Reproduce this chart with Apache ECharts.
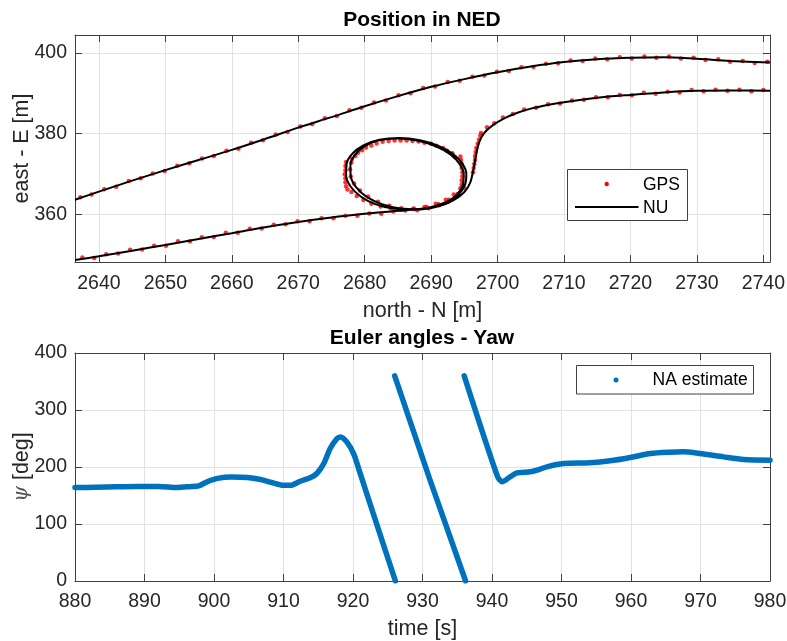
<!DOCTYPE html>
<html>
<head>
<meta charset="utf-8">
<script src="https://cdn.jsdelivr.net/npm/echarts@6/dist/echarts.min.js"></script>
<style>
  html, body { margin: 0; padding: 0; background: #fff; }
  #chart { width: 787px; height: 641px; }
</style>
</head>
<body>
<div id="chart"></div>
<script>
// ---- Position in NED: GPS fixes (north, east) in metres ----
const gpsUpper = [[2637.2,364.3],[2638.9,365.0],[2640.8,366.3],[2642.6,366.9],[2644.5,368.3],[2646.3,369.0],[2648.1,370.2],[2649.9,370.8],[2651.8,372.1],[2653.6,372.7],[2655.5,373.9],[2657.3,374.5],[2659.2,375.8],[2661.0,376.3],[2662.9,377.8],[2664.7,378.4],[2666.6,379.8],[2668.4,380.4],[2670.3,381.8],[2672.1,382.4],[2674.0,383.8],[2675.8,384.4],[2677.7,385.8],[2679.5,386.4],[2681.4,387.7],[2683.2,388.2],[2685.1,389.5],[2686.9,390.0],[2688.8,391.3],[2690.6,391.7],[2692.5,392.8],[2694.3,393.1],[2696.2,394.1],[2698.0,394.4],[2699.9,395.3],[2701.7,395.5],[2703.6,396.4],[2705.4,396.5],[2707.3,397.3],[2709.1,397.4],[2711.0,398.1],[2712.8,398.0],[2714.7,398.6],[2716.5,398.4],[2718.4,398.9],[2720.2,398.6],[2722.1,399.1],[2723.9,398.8],[2725.8,399.1],[2727.6,398.6],[2729.5,398.8],[2731.3,398.2],[2733.2,398.4],[2735.0,397.8],[2736.9,398.0],[2738.7,397.5],[2740.6,397.8]];
const gpsLowerLeft = [[2637.5,349.4],[2639.3,349.3],[2641.1,350.2],[2642.9,350.4],[2644.7,351.3],[2646.5,351.4],[2648.3,352.3],[2650.1,352.3],[2651.9,353.4],[2653.7,353.4],[2655.5,354.4],[2657.3,354.5],[2659.1,355.5],[2660.9,355.5],[2662.7,356.5],[2664.5,356.6],[2666.3,357.5],[2668.1,357.6],[2669.9,358.4],[2671.7,358.4],[2673.5,359.1],[2675.3,359.1],[2677.1,359.7],[2678.9,359.7],[2680.7,360.3],[2682.5,360.2],[2684.3,360.8]];
const gpsLoop = [[2686.1,361.0],[2687.9,361.1],[2689.6,361.6],[2691.2,362.3],[2692.6,363.2],[2693.8,364.4],[2693.6,374.2],[2692.4,375.8],[2690.8,377.0],[2689.0,377.8],[2687.2,378.2],[2685.4,378.3],[2683.6,378.2],[2681.8,377.6],[2680.2,376.6],[2679.0,375.3],[2678.1,373.8],[2677.2,373.0],[2677.1,372.0],[2677.1,371.0],[2677.0,370.0],[2677.1,369.0],[2677.1,368.0],[2677.2,367.0],[2677.4,366.2],[2678.0,365.6],[2678.8,364.6],[2679.8,363.6],[2681.0,362.7],[2682.4,362.0],[2683.9,361.5],[2685.5,361.2],[2687.3,361.4],[2689.0,361.9],[2690.7,362.7],[2692.2,363.7],[2693.4,365.0],[2694.4,366.5],[2694.6,367.5],[2694.6,368.5],[2694.7,369.5],[2694.7,370.5],[2694.6,371.5],[2694.6,372.5],[2694.5,373.5],[2694.4,374.4],[2693.2,375.2],[2691.8,376.5],[2690.0,377.5],[2688.1,378.1],[2686.3,378.3],[2684.5,378.3],[2682.7,378.0],[2681.0,377.1],[2679.6,375.9],[2678.6,374.5],[2678.0,372.9],[2677.8,371.2],[2677.9,369.4],[2678.4,367.7],[2679.3,366.0],[2680.5,364.5],[2682.0,363.2],[2683.7,362.2],[2685.5,361.6],[2687.4,361.5],[2689.3,361.9],[2691.1,362.6],[2692.7,363.7],[2694.0,365.1],[2695.0,366.6],[2696.3,370.5],[2696.4,371.5],[2696.5,372.5],[2696.6,373.5],[2696.6,374.5],[2696.7,375.5],[2696.8,376.5],[2697.0,377.5],[2697.2,378.5],[2697.4,379.5],[2697.5,380.2]];
const gpsLowerRight = [[2698.4,381.6],[2699.5,382.6],[2700.8,384.0],[2702.3,384.9],[2704.0,386.0],[2705.8,386.4],[2707.6,387.3],[2709.4,387.5],[2711.2,388.2],[2713.0,388.4],[2714.8,389.0],[2716.6,389.0],[2718.4,389.6],[2720.2,389.5],[2722.0,390.1],[2723.8,389.9],[2725.6,390.4],[2727.4,390.2],[2729.2,390.8],[2731.0,390.5],[2732.8,390.9],[2734.6,390.6],[2736.4,390.9],[2738.2,390.5],[2740.0,390.8]];

// ---- NU estimated track (north, east) ----
const nuUpper = [[2636.4,363.7],[2640,365.7],[2645,368.4],[2650,371.0],[2655,373.5],[2660,376.0],[2665,378.7],[2670,381.5],[2675,384.1],[2680,386.8],[2685,389.3],[2690,391.6],[2695,393.5],[2700,395.2],[2705,396.6],[2710,397.7],[2715,398.4],[2720,398.75],[2725,398.9],[2730,398.5],[2735,398.0],[2741,397.6]];
const nuLower = [[2636.4,348.8],[2640,349.7],[2645,351.1],[2650,352.5],[2655,354.0],[2660,355.4],[2665,356.9],[2670,358.2],[2675,359.3],[2680,360.2],[2684,360.8],
  [2687,361.2],[2689.8,361.8],[2692.2,363.1],[2694.1,365.0],[2695.1,367.4],[2695.3,370.0],[2694.7,372.6],[2693.3,375.0],[2691.1,377.0],[2688.3,378.4],[2685.2,378.95],[2682.2,378.5],[2679.8,377.1],[2678.1,375.0],[2677.25,372.4],[2677.2,369.6],[2677.9,366.9],[2679.4,364.5],[2681.6,362.6],[2684.3,361.5],[2687.2,361.2],
  [2690.0,361.8],[2692.3,363.1],[2693.9,365.0],[2694.8,367.5],[2694.9,370.0],[2694.3,372.5],[2692.9,374.9],[2690.7,376.9],[2687.9,378.3],[2684.9,378.85],[2682.0,378.3],[2679.9,376.8],[2678.5,374.7],[2677.85,372.2],[2677.9,369.5],[2678.7,366.8],[2680.3,364.4],[2682.6,362.6],[2685.4,361.5],[2688.4,361.3],[2691.2,362.1],[2693.4,363.6],[2695.0,365.6],[2695.9,368.0],
  [2696.4,371.5],[2696.8,375.0],[2697.2,377.8],[2698.0,380.2],[2699.2,382.0],[2701.0,383.8],[2703.0,385.2],[2705.0,386.2],[2707.5,387.1],[2710,387.8],[2715,388.9],[2720,389.6],[2725,390.2],[2730,390.6],[2735,390.7],[2741,390.6]];

// ---- Yaw estimate (time s, psi deg), wrapped to [0, 360) ----
const yawSeg1 = [[880,164],[883,164.5],[886,165.5],[889,166],[892,166],[894.7,164],[896.5,165.5],[897.8,167],[899,174],[900.5,180],[902.5,182.5],[904.8,181.6],[906.7,178.1],[908.1,173.4],[909.6,168.5],[911,167.8],[912.4,175],[913.9,181.6],[914.8,188.6],[915.8,206],[916.7,232],[917.7,250],[918.2,252.8],[919.1,244],[920.1,223],[921.0,190],[923.0,115],[926.1,0]];
const yawSeg2 = [[926.0,360],[931.0,180],[936.2,0]];
const yawSeg3 = [[936.0,360],[940.8,183],[941.45,174],[942.6,182.7],[943.6,189.8],[945.5,191.5],[946.5,194.5],[947.9,200.3],[950.3,206],[954.1,207.4],[957.0,210.8],[959.9,216.7],[962.8,223.7],[965.6,226],[967.5,226.6],[969.9,223.7],[973.3,217.8],[976.2,213.2],[980,212]];

// ---- tick values ----
const northTicks = [2640,2650,2660,2670,2680,2690,2700,2710,2720,2730,2740];
const eastTicks = [360,380,400];

const FONT = 'Liberation Sans, Arial, Helvetica, sans-serif';
const AX = '#404040';
const TXT = '#262626';
const GRIDC = '#e2e2e2';
const TICK_FS = 19.5;
const NAME_FS = 21.5;
const TITLE_FS = 21;
const plain = v => String(v);

function mainX(grid, extra) {
  return Object.assign({
    gridIndex: grid, type: 'value', position: 'bottom',
    axisLine: { show: true, onZero: false, lineStyle: { color: AX, width: 1 } },
    axisTick: { show: true, inside: true, length: 7, lineStyle: { color: AX } },
    axisLabel: { fontSize: TICK_FS, color: TXT, fontFamily: FONT, margin: 11, formatter: plain },
    splitLine: { show: true, lineStyle: { color: GRIDC, width: 1 } },
    nameLocation: 'middle', nameGap: 38, nameMoveOverlap: false,
    nameTextStyle: { fontSize: NAME_FS, color: TXT, fontFamily: FONT }
  }, extra);
}
function frameX(grid, extra) {
  return Object.assign({
    gridIndex: grid, type: 'value', position: 'top',
    axisLine: { show: true, onZero: false, lineStyle: { color: AX, width: 1 } },
    axisTick: { show: true, inside: true, length: 7, lineStyle: { color: AX } },
    axisLabel: { show: false },
    splitLine: { show: false }
  }, extra);
}
function mainY(grid, extra) {
  return Object.assign({
    gridIndex: grid, type: 'value', position: 'left',
    axisLine: { show: true, onZero: false, lineStyle: { color: AX, width: 1 } },
    axisTick: { show: true, inside: true, length: 7, lineStyle: { color: AX } },
    axisLabel: { fontSize: TICK_FS, color: TXT, fontFamily: FONT, margin: 8, formatter: plain },
    splitLine: { show: true, lineStyle: { color: GRIDC, width: 1 } },
    nameLocation: 'middle', nameGap: 42, nameMoveOverlap: false,
    nameTextStyle: { fontSize: NAME_FS, color: TXT, fontFamily: FONT }
  }, extra);
}
function frameY(grid, extra) {
  return Object.assign({
    gridIndex: grid, type: 'value', position: 'right',
    axisLine: { show: true, onZero: false, lineStyle: { color: AX, width: 1 } },
    axisTick: { show: true, inside: true, length: 7, lineStyle: { color: AX } },
    axisLabel: { show: false },
    splitLine: { show: false }
  }, extra);
}

const northRange = { min: 2636.4, max: 2741.0 };
const eastRange = { min: 348.3, max: 404.4 };

const chart = echarts.init(document.getElementById('chart'), null, { renderer: 'canvas' });
chart.setOption({
  animation: false,
  backgroundColor: '#fff',
  title: [
    { text: 'Position in NED', left: 422, top: 10, textAlign: 'center', padding: 0,
      textStyle: { fontSize: TITLE_FS, fontWeight: 'bold', color: '#000', fontFamily: FONT } },
    { text: 'Euler angles - Yaw', left: 422, top: 327.5, textAlign: 'center', padding: 0,
      textStyle: { fontSize: TITLE_FS, fontWeight: 'bold', color: '#000', fontFamily: FONT } }
  ],
  grid: [
    { left: 75, top: 35, width: 695, height: 227, containLabel: false, outerBoundsMode: 'none' },
    { left: 75, top: 353, width: 695, height: 228, containLabel: false, outerBoundsMode: 'none' }
  ],
  xAxis: [
    mainX(0, Object.assign({ name: 'north - N [m]',
      axisTick: { show: true, inside: true, length: 7, lineStyle: { color: AX }, customValues: northTicks },
      axisLabel: { fontSize: TICK_FS, color: TXT, fontFamily: FONT, margin: 12, formatter: plain, customValues: northTicks } }, northRange)),
    frameX(0, Object.assign({
      axisTick: { show: true, inside: true, length: 7, lineStyle: { color: AX }, customValues: northTicks } }, northRange)),
    mainX(1, { name: 'time [s]', min: 880, max: 980, interval: 10, nameGap: 37 }),
    frameX(1, { min: 880, max: 980, interval: 10 })
  ],
  yAxis: [
    mainY(0, Object.assign({ name: 'east - E [m]',
      axisTick: { show: true, inside: true, length: 7, lineStyle: { color: AX }, customValues: eastTicks },
      axisLabel: { fontSize: TICK_FS, color: TXT, fontFamily: FONT, margin: 8, formatter: plain, customValues: eastTicks } }, eastRange)),
    frameY(0, Object.assign({
      axisTick: { show: true, inside: true, length: 7, lineStyle: { color: AX }, customValues: eastTicks } }, eastRange)),
    mainY(1, { name: '{psi|ψ} [deg]', min: 0, max: 400, interval: 100,
      nameTextStyle: { fontSize: NAME_FS, color: TXT, fontFamily: FONT,
        rich: { psi: { fontSize: 20, fontStyle: 'italic', fontFamily: 'DejaVu Serif, serif', color: '#555' } } } }),
    frameY(1, { min: 0, max: 400, interval: 100 })
  ],
  series: [
    { name: 'GPS', type: 'scatter', xAxisIndex: 0, yAxisIndex: 0, symbol: 'circle', symbolSize: 4.5,
      itemStyle: { color: '#ff0000' }, data: gpsUpper },
    { name: 'GPS', type: 'scatter', xAxisIndex: 0, yAxisIndex: 0, symbol: 'circle', symbolSize: 4.5,
      itemStyle: { color: '#ff0000' }, data: gpsLowerLeft },
    { name: 'GPS', type: 'scatter', xAxisIndex: 0, yAxisIndex: 0, symbol: 'circle', symbolSize: 4.5,
      itemStyle: { color: '#ff0000' }, data: gpsLoop },
    { name: 'GPS', type: 'scatter', xAxisIndex: 0, yAxisIndex: 0, symbol: 'circle', symbolSize: 4.5,
      itemStyle: { color: '#ff0000' }, data: gpsLowerRight },
    { name: 'NU', type: 'line', xAxisIndex: 0, yAxisIndex: 0, showSymbol: false, smooth: 0.3,
      lineStyle: { color: '#000', width: 2 }, data: nuUpper },
    { name: 'NU', type: 'line', xAxisIndex: 0, yAxisIndex: 0, showSymbol: false, smooth: 0.3,
      lineStyle: { color: '#000', width: 2 }, data: nuLower },
    { name: 'NA estimate', type: 'line', xAxisIndex: 2, yAxisIndex: 2, showSymbol: false, smooth: 0.25,
      lineStyle: { color: '#0072BD', width: 5.5, cap: 'round', join: 'round' }, data: yawSeg1 },
    { name: 'NA estimate', type: 'line', xAxisIndex: 2, yAxisIndex: 2, showSymbol: false,
      lineStyle: { color: '#0072BD', width: 5.5, cap: 'round' }, data: yawSeg2 },
    { name: 'NA estimate', type: 'line', xAxisIndex: 2, yAxisIndex: 2, showSymbol: false, smooth: 0.25,
      lineStyle: { color: '#0072BD', width: 5.5, cap: 'round', join: 'round' }, data: yawSeg3 }
  ],
  graphic: [
    // legend of the position plot
    { type: 'rect', shape: { x: 567.5, y: 169.5, width: 120, height: 51 }, z: 50,
      style: { fill: '#fff', stroke: AX, lineWidth: 1 } },
    { type: 'circle', shape: { cx: 606.7, cy: 184, r: 2.2 }, z: 51, style: { fill: '#ff0000' } },
    { type: 'text', x: 643, y: 185, z: 51,
      style: { text: 'GPS', fontSize: 17.5, fontFamily: FONT, fill: '#000', verticalAlign: 'middle' } },
    { type: 'line', shape: { x1: 575, y1: 207, x2: 638.5, y2: 207 }, z: 51,
      style: { stroke: '#000', lineWidth: 2 } },
    { type: 'text', x: 643, y: 208, z: 51,
      style: { text: 'NU', fontSize: 17.5, fontFamily: FONT, fill: '#000', verticalAlign: 'middle' } },
    // legend of the yaw plot
    { type: 'rect', shape: { x: 576.5, y: 365.5, width: 177, height: 28.5 }, z: 50,
      style: { fill: '#fff', stroke: AX, lineWidth: 1 } },
    { type: 'circle', shape: { cx: 616, cy: 380, r: 2.5 }, z: 51, style: { fill: '#0072BD' } },
    { type: 'text', x: 652.5, y: 380, z: 51,
      style: { text: 'NA estimate', fontSize: 17.5, fontFamily: FONT, fill: '#000', verticalAlign: 'middle' } }
  ]
});
</script>
</body>
</html>
